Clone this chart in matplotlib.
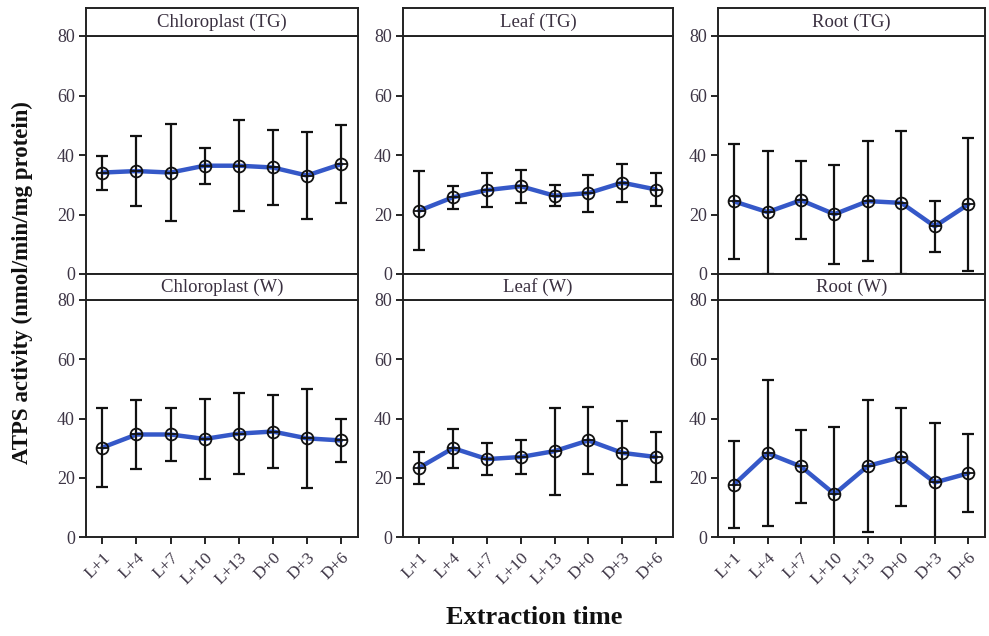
import matplotlib
matplotlib.use("Agg")
import matplotlib.pyplot as plt
import numpy as np

times = ["L+1", "L+4", "L+7", "L+10", "L+13", "D+0", "D+3", "D+6"]
panel_titles = ["Chloroplast (TG)", "Leaf (TG)", "Root (TG)",
                "Chloroplast (W)", "Leaf (W)", "Root (W)"]

chloro_tg = [34.1, 34.6, 34.1, 36.4, 36.4, 35.8, 33.1, 36.9]
chloro_tg_sd = [5.7, 11.7, 16.4, 6.1, 15.3, 12.5, 14.5, 13.2]
leaf_tg = [21.3, 25.8, 28.2, 29.5, 26.3, 27.2, 30.7, 28.4]
leaf_tg_sd = [13.4, 3.9, 5.6, 5.5, 3.6, 6.2, 6.4, 5.7]
root_tg = [24.4, 20.8, 24.8, 20.1, 24.5, 23.9, 16.0, 23.4]
root_tg_sd = [19.4, 20.7, 13.1, 16.7, 20.1, 24.0, 8.6, 22.4]

chloro_w = [30.2, 34.6, 34.6, 33.1, 34.9, 35.6, 33.3, 32.6]
chloro_w_sd = [13.2, 11.6, 9.1, 13.5, 13.8, 12.2, 16.6, 7.2]
leaf_w = [23.4, 30.0, 26.3, 27.0, 29.0, 32.6, 28.4, 27.0]
leaf_w_sd = [5.4, 6.6, 5.3, 5.9, 14.7, 11.3, 10.9, 8.5]
root_w = [17.7, 28.3, 23.8, 14.5, 24.0, 27.0, 18.4, 21.5]
root_w_sd = [14.7, 24.6, 12.2, 22.5, 22.3, 16.4, 20.0, 13.2]

series = [(chloro_tg, chloro_tg_sd), (leaf_tg, leaf_tg_sd), (root_tg, root_tg_sd),
          (chloro_w, chloro_w_sd), (leaf_w, leaf_w_sd), (root_w, root_w_sd)]

serif = ["Liberation Serif", "DejaVu Serif"]
plt.rcParams["font.family"] = serif

W, H = 989, 636
fig = plt.figure(figsize=(W / 100, H / 100), dpi=100)

cols = [(86, 358), (403, 673), (718, 985)]
rows = [((8, 36), (36, 274)), ((274, 300), (300, 537))]

def fr(x0, x1, y0, y1):
    return [x0 / W, 1 - y1 / H, (x1 - x0) / W, (y1 - y0) / H]

x = np.arange(1, len(times) + 1)
tick_color = "#3d3545"
for r, (strip, body) in enumerate(rows):
    for c, (x0, x1) in enumerate(cols):
        idx = r * 3 + c
        vals, sd = series[idx]
        ax = fig.add_axes(fr(x0, x1, body[0], body[1]))
        ax.errorbar(x, vals, yerr=sd, fmt="none", ecolor="#111111",
                    elinewidth=1.6, capsize=4, capthick=1.6, zorder=2)
        ax.plot(x, vals, color="#3558c8", lw=3.2, zorder=3,
                solid_capstyle="round")
        ax.plot(x, vals, ls="none", marker="o", ms=8.5, mfc="none",
                mec="#111111", mew=1.3, zorder=4)
        ax.plot(x, vals, ls="none", marker="+", ms=8.5, mec="#111111",
                mew=1.3, zorder=4)
        ax.set_xlim(0.52, 8.5)
        ax.set_ylim(0, 80)
        ax.set_yticks([0, 20, 40, 60, 80])
        ax.tick_params(axis="y", direction="out", length=5, width=1.2,
                       labelsize=13, labelcolor=tick_color, pad=3)
        ax.set_xticks(x)
        if r == 1:
            ax.set_xticklabels(times, rotation=45, ha="right",
                               rotation_mode="anchor", fontsize=12.5,
                               color=tick_color)
            ax.tick_params(axis="x", direction="out", length=5, width=1.2,
                           pad=4)
        else:
            ax.tick_params(axis="x", length=0, labelbottom=False)
        for s in ax.spines.values():
            s.set_linewidth(1.4)
            s.set_color("#222222")
        sax = fig.add_axes(fr(x0, x1, strip[0], strip[1]))
        sax.set_xticks([])
        sax.set_yticks([])
        for s in sax.spines.values():
            s.set_linewidth(1.4)
            s.set_color("#222222")
        sax.text(0.5, 0.5, panel_titles[idx], ha="center", va="center",
                 fontsize=13.5, color="#3a3040", transform=sax.transAxes)

fig.text(22 / W, 1 - 283 / H, "ATPS activity (nmol/min/mg protein)",
         rotation=90, ha="center", va="center", fontsize=16.5,
         fontweight="bold", color="#111111")
fig.text(534 / W, 1 - 618 / H, "Extraction time", ha="center",
         va="center", fontsize=19, fontweight="bold", color="#111111")

fig.savefig("out.png", dpi=100)
